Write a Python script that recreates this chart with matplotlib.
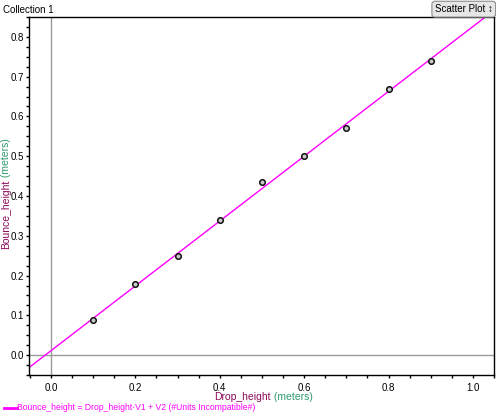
import numpy as np
import matplotlib
matplotlib.use("Agg")
import matplotlib.pyplot as plt
from matplotlib.ticker import MultipleLocator

# data
drop_height = [0.1, 0.2, 0.3, 0.4, 0.5, 0.6, 0.7, 0.8, 0.9]
bounce_height = [0.088, 0.179, 0.249, 0.340, 0.435, 0.500, 0.571, 0.669, 0.740]
V1 = 0.815   # slope of the fitted line
V2 = 0.011   # intercept

x_ticks = [0.0, 0.2, 0.4, 0.6, 0.8, 1.0]
y_ticks = [0.0, 0.1, 0.2, 0.3, 0.4, 0.5, 0.6, 0.7, 0.8]

plt.rcParams["font.family"] = ["Liberation Sans", "DejaVu Sans"]

NAME_COL = "#8a0a5a"
UNIT_COL = "#2e9a6a"
LINE_COL = "#ff00ff"

fig = plt.figure(figsize=(4.96, 4.17), dpi=100)
ax = fig.add_axes([29 / 496, 1 - 375 / 417, 465 / 496, 358 / 417])

ax.set_xlim(-0.052, 1.050)
ax.set_ylim(-0.05, 0.85)

ax.axvline(0, color="#9a9a9a", lw=1, zorder=1)
ax.axhline(0, color="#9a9a9a", lw=1, zorder=1)

xs = np.array(ax.get_xlim())
ax.plot(xs, V1 * xs + V2, color=LINE_COL, lw=1, zorder=2)
ax.plot(drop_height, bounce_height, "o", ms=4, mfc="#c8c8c8",
        mec="#111111", mew=1.1, zorder=3)

ax.set_xticks(x_ticks)
ax.set_yticks(y_ticks)
ax.xaxis.set_minor_locator(MultipleLocator(0.05))
ax.yaxis.set_minor_locator(MultipleLocator(0.025))
ax.set_xticklabels([f"{v:.1f}" for v in x_ticks])
ax.set_yticklabels([f"{v:.1f}" for v in y_ticks])
ax.tick_params(which="major", direction="out", length=2.5, width=1,
               labelsize=7, pad=1, color="black")
ax.tick_params(which="minor", direction="out", length=2.5, width=1, color="black")
ax.tick_params(axis="x", which="major", pad=3)
for s in ax.spines.values():
    s.set_linewidth(1)

# x label, two colours
fig.text(271 / 496, 1 - 397 / 417, "Drop_height", color=NAME_COL, fontsize=7.5,
         ha="right", va="center")
fig.text(271 / 496, 1 - 397 / 417, " (meters)", color=UNIT_COL, fontsize=7.5,
         ha="left", va="center")

# y label, two colours
fig.text(6 / 496, 1 - 180 / 417, "Bounce_height", color=NAME_COL, fontsize=7.5,
         rotation=90, ha="center", va="top")
fig.text(6 / 496, 1 - 180 / 417, " (meters)", color=UNIT_COL, fontsize=7.5,
         rotation=90, ha="center", va="bottom")

# legend line at the bottom
fig.add_artist(plt.Line2D([4 / 496, 17 / 496], [1 - 408 / 417, 1 - 408 / 417],
                          color=LINE_COL, lw=2, transform=fig.transFigure))
fig.text(17 / 496, 1 - 408 / 417,
         "Bounce_height = Drop_height\u00b7V1 + V2 (#Units Incompatible#)",
         color=LINE_COL, fontsize=6.2, ha="left", va="center")

fig.text(0.006, 0.975, "Collection 1", fontsize=7, ha="left", va="center")
fig.text(0.935, 0.978, "Scatter Plot \u2195", fontsize=7, ha="center", va="center",
         bbox=dict(boxstyle="round,pad=0.3", fc="#e6e6e6", ec="#8c8c8c", lw=0.8))

fig.savefig("out.png", dpi=100)
